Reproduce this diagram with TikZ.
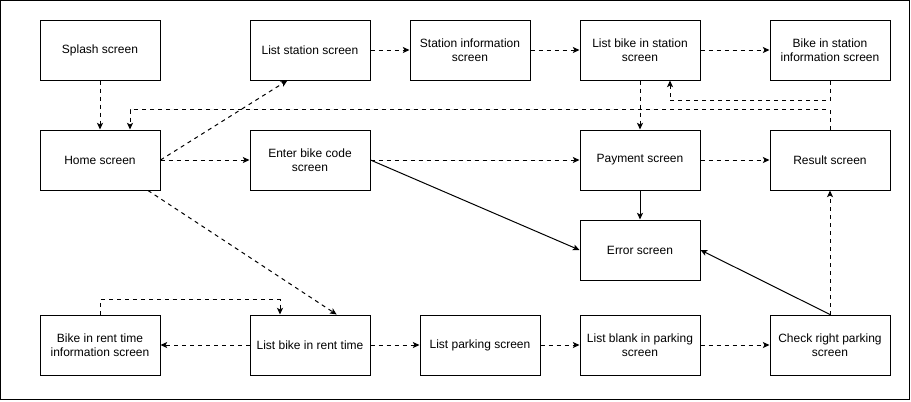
\documentclass[tikz,border=0pt]{standalone}
\usepackage{fontspec}
\setmainfont{Liberation Sans}
\usetikzlibrary{arrows.meta}
\begin{document}
\begin{tikzpicture}[x=0.75pt,y=-0.75pt,line width=0.75pt,
	scr/.style={draw,minimum width=90pt,minimum height=45pt,inner sep=2pt,align=center,font=\fontsize{9}{10.5}\selectfont},
	go/.style={-{Stealth[length=5pt,width=4.5pt,inset=1.2pt]}},
	dgo/.style={go,dash pattern=on 3pt off 3pt}]
	\useasboundingbox (0,0) rectangle (911,401);
	\draw (0.5,0.5) rectangle (909.5,399.5);
	\node[scr] (spl) at (100,50){Splash screen};
	\node[scr] (lst) at (310,50){List station screen};
	\node[scr] (sti) at (470,50){Station information\\screen};
	\node[scr] (lbs) at (640,50){List bike in station\\screen};
	\node[scr] (bsi) at (830,50){Bike in station\\information screen};
	\node[scr] (home) at (100,160){Home screen};
	\node[scr] (ebc) at (310,160){Enter bike code\\screen};
	\node[scr] (pay) at (640,160){Payment screen};
	\node[scr] (res) at (830,160){Result screen};
	\node[scr] (err) at (640,250){Error screen};
	\node[scr] (bri) at (100,345){Bike in rent time\\information screen};
	\node[scr] (lbr) at (310,345){List bike in rent time};
	\node[scr] (lpk) at (480,345){List parking screen};
	\node[scr] (lbp) at (640,345){List blank in parking\\screen};
	\node[scr] (crp) at (830,345){Check right parking\\screen};
	\draw[dgo] (spl)--(home);
	\draw[dgo] (home.east)--([xshift=-17pt]lst.south);
	\draw[dgo] (home)--(ebc);
	\draw[dgo] ([xshift=36pt]home.south)--([xshift=20pt]lbr.north);
	\draw[dgo] (lst)--(sti);
	\draw[dgo] (sti)--(lbs);
	\draw[dgo] (lbs)--(bsi);
	\draw[dgo] (bsi.south)--++(0,20)-|([xshift=22.5pt]lbs.south);
	\draw[dgo] (res.north)--++(0,-20)-|([xshift=22.5pt]home.north);
	\draw[dgo] (lbs)--(pay);
	\draw[dgo] (ebc)--(pay);
	\draw[dgo] (pay)--(res);
	\draw[go] (pay)--(err);
	\draw[go] (ebc.east)--(err.west);
	\draw[go] (crp.north)--(err.east);
	\draw[dgo] (crp)--(res);
	\draw[dgo] (lbr)--(bri);
	\draw[dgo] (bri.north)--++(0,-15)-|([xshift=-22.5pt]lbr.north);
	\draw[dgo] (lbr)--(lpk);
	\draw[dgo] (lpk)--(lbp);
	\draw[dgo] (lbp)--(crp);
\end{tikzpicture}
\end{document}
